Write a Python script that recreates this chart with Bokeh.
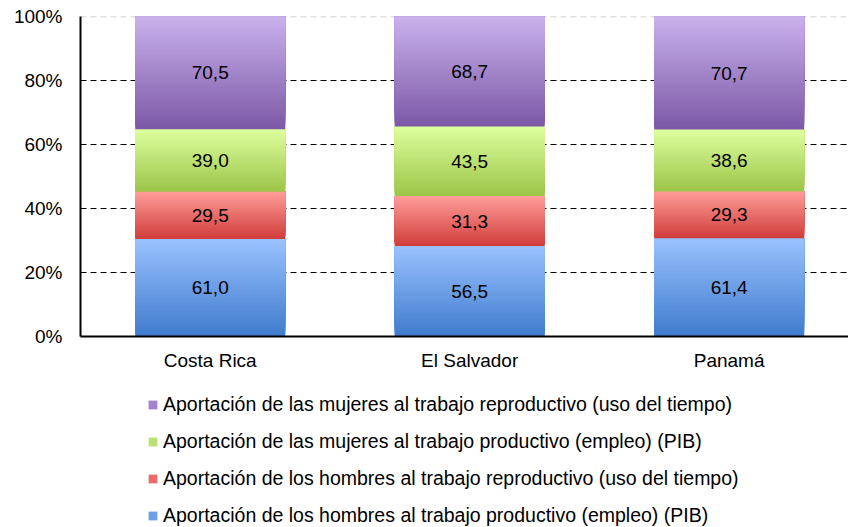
from bokeh.plotting import figure
from bokeh.layouts import column
from bokeh.models import Range1d, Legend, LegendItem, FixedTicker, Span
from bokeh.core.properties import value
from bokeh.embed import file_html
from bokeh.resources import INLINE

countries = ["Costa Rica", "El Salvador", "Panamá"]
series_names = [
    "Aportación de los hombres al trabajo productivo (empleo) (PIB)",
    "Aportación de los hombres al trabajo reproductivo (uso del tiempo)",
    "Aportación de las mujeres al trabajo productivo (empleo) (PIB)",
    "Aportación de las mujeres al trabajo reproductivo (uso del tiempo)",
]
hombres_productivo = [61.0, 56.5, 61.4]
hombres_reproductivo = [29.5, 31.3, 29.3]
mujeres_productivo = [39.0, 43.5, 38.6]
mujeres_reproductivo = [70.5, 68.7, 70.7]
y_ticks = [0, 20, 40, 60, 80, 100]

series = [hombres_productivo, hombres_reproductivo, mujeres_productivo, mujeres_reproductivo]
# (bottom colour, top colour) of each gradient
grad = [
    ((0x3F, 0x7B, 0xCC), (0x9A, 0xC2, 0xFF)),
    ((0xD0, 0x3C, 0x3A), (0xFF, 0x9E, 0x9A)),
    ((0x9C, 0xC4, 0x48), (0xDD, 0xFF, 0x9E)),
    ((0x7C, 0x58, 0xA6), (0xC9, 0xB2, 0xEC)),
]
mid = ["#6D9EE6", "#E86C69", "#BCE173", "#A384CB"]

FONT = "Liberation Sans"

p = figure(frame_width=768, frame_height=320, output_backend="svg", toolbar_location=None,
           x_range=Range1d(0, 2.96), y_range=Range1d(0, 100),
           min_border_left=80, min_border_right=0, min_border_top=16, min_border_bottom=49)
p.outline_line_color = None
p.background_fill_color = "white"

def hexc(c):
    return "#%02x%02x%02x" % tuple(int(round(v)) for v in c)

N = 50
bw = 0.578
L, R, B, T, C = [], [], [], [], []
lx, ly, lt = [], [], []
for i, name in enumerate(countries):
    total = sum(s[i] for s in series)
    base = 0.0
    xc = i + 0.5
    for k, s in enumerate(series):
        h = s[i] / total * 100
        c0, c1 = grad[k]
        for j in range(N):
            f = (j + 0.5) / N
            L.append(xc - bw / 2); R.append(xc + bw / 2)
            B.append(base + h * j / N); T.append(base + h)
            C.append(hexc([c0[m] + (c1[m] - c0[m]) * f for m in range(3)]))
        lx.append(xc); ly.append(base + h / 2); lt.append(("%.1f" % s[i]).replace(".", ","))
        base += h

p.quad(left=L, right=R, bottom=B, top=T, fill_color=C, line_color=None)
p.text(x=lx, y=ly, text=lt, text_align="center", text_baseline="middle",
       text_font=value(FONT), text_font_size="19px", text_color="black")

# axes
p.yaxis.ticker = FixedTicker(ticks=y_ticks)
p.yaxis.major_label_overrides = {t: "%d%%" % t for t in y_ticks}
p.xaxis.ticker = FixedTicker(ticks=[i + 0.5 for i in range(len(countries))])
p.xaxis.major_label_overrides = {i + 0.5: c for i, c in enumerate(countries)}
for ax in (p.xaxis, p.yaxis):
    ax.axis_line_color = "black"
    ax.axis_line_width = 2
    ax.major_tick_line_color = None
    ax.minor_tick_line_color = None
    ax.major_label_text_font = FONT
    ax.major_label_text_font_size = "19px"
    ax.major_label_text_color = "black"
p.yaxis.major_label_standoff = 12
p.xaxis.major_label_standoff = 7
p.xgrid.grid_line_color = None
p.ygrid.ticker = FixedTicker(ticks=[20, 40, 60, 80])
p.ygrid.grid_line_color = "black"
p.ygrid.grid_line_dash = "6 4"
p.ygrid.grid_line_width = 1
p.add_layout(Span(location=100, dimension="width", line_color="#C4C4C4",
                  line_dash="6 4", line_width=1.5, level="underlay"))

# legend figure
q = figure(width=848, height=142, output_backend="svg", toolbar_location=None,
           x_range=Range1d(0, 1), y_range=Range1d(0, 1),
           x_axis_location=None, y_axis_location=None,
           min_border_left=0, min_border_right=0, min_border_top=0, min_border_bottom=0)
q.outline_line_color = None
q.xgrid.grid_line_color = None
q.ygrid.grid_line_color = None
items = []
for k in reversed(range(4)):
    r = q.quad(left=[5], right=[6], bottom=[5], top=[6], fill_color=mid[k], line_color=None)
    items.append(LegendItem(label=series_names[k], renderers=[r]))
leg = Legend(items=items, location=(67, 0), orientation="vertical",
             label_text_font=FONT, label_text_font_size="19.5px", label_text_color="black",
             glyph_width=11, glyph_height=11, label_height=23, label_standoff=5,
             spacing=14, padding=0, margin=0, border_line_color=None,
             background_fill_alpha=0)
q.add_layout(leg, "center")

open("out.html", "w").write(file_html(column(p, q, spacing=0), INLINE))
